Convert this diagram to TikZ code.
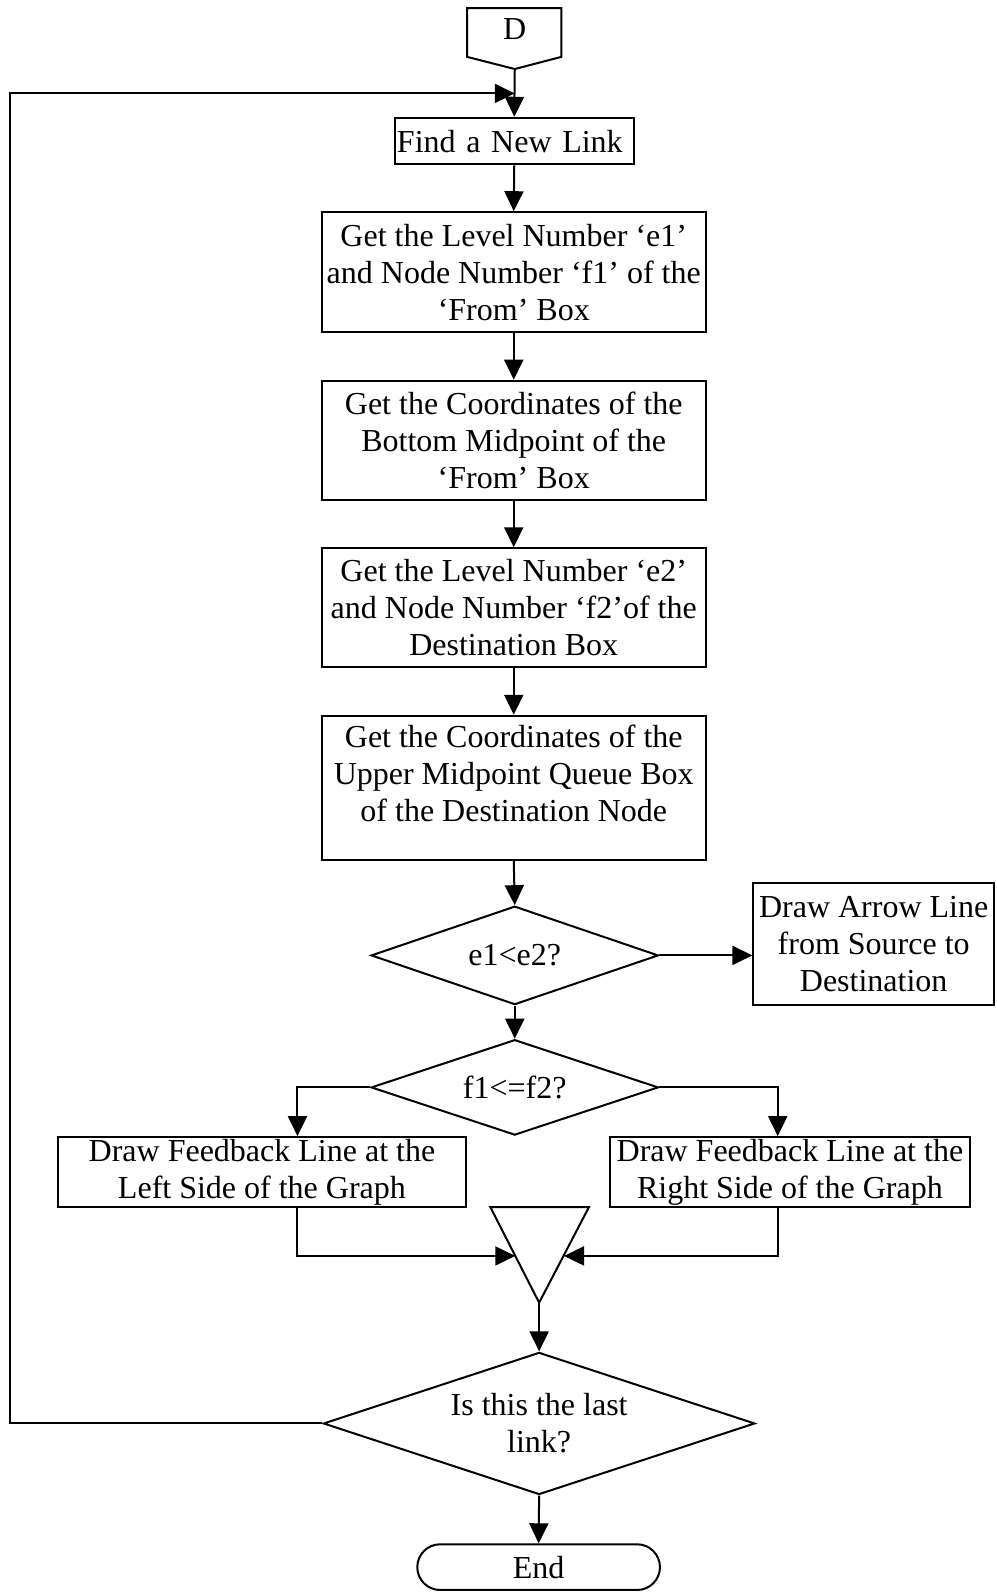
\documentclass[tikz,border=0pt]{standalone}
\usepackage{fontspec}
\setmainfont{Liberation Serif}
\usetikzlibrary{shapes.geometric,arrows.meta}
\newlength\pxu
\setlength\pxu{0.50765pt}

\begin{document}
\begin{tikzpicture}[
  x=\pxu, y={(0pt,-0.50765pt)},
  line width=1pt,
  every node/.style={font=\fontsize{16}{18.5}\selectfont, inner sep=0pt, align=center},
  box/.style={draw, rectangle},
  decision/.style={draw, diamond},
  flow/.style={-{Triangle[length=10pt,width=9.5pt]}},
]
\useasboundingbox (0,0) rectangle (981,1568);

% off-page connector at the top
\draw (460,8) -- (553,8) -- (553,56) -- (507,68) -- (460,56) -- cycle;
\node (dlab) at (507,29) {D};
\coordinate (dtip) at (507,68);
\coordinate (join) at (507,92);

% main column
\node[box, text width=231\pxu, align=left, inner xsep=2\pxu, minimum height=46\pxu] (find) at (506.5,139) {Find a New Link};
\node[box, minimum width=378\pxu, minimum height=118\pxu] (b2) at (506,268)
  {Get the Level Number ‘e1’\\and Node Number ‘f1’ of the\\‘From’ Box};
\node[box, minimum width=378\pxu, minimum height=117\pxu] (b3) at (506,433.5)
  {Get the Coordinates of the\\Bottom Midpoint of the\\‘From’ Box};
\node[box, minimum width=378\pxu, minimum height=117\pxu] (b4) at (506,598.5)
  {Get the Level Number ‘e2’\\and Node Number ‘f2’of the\\Destination Box};
\node[box, minimum width=378\pxu, minimum height=142\pxu] (b5) at (506,776) {};
\node (b5text) at (506,762)
  {Get the Coordinates of the\\Upper Midpoint Queue Box\\of the Destination Node};

\node[decision, shape aspect=2.9, minimum width=283\pxu, minimum height=97\pxu] (d1) at (507,941) {e1<e2?};
\node[box, minimum width=237\pxu, minimum height=120\pxu] (arr) at (860.5,930)
  {Draw Arrow Line\\from Source to\\Destination};
\node[decision, shape aspect=3, minimum width=283\pxu, minimum height=94\pxu] (d2) at (507,1071) {f1<=f2?};

\node[box, minimum width=402\pxu, minimum height=69\pxu] (lbox) at (258,1154.5)
  {Draw Feedback Line at the\\Left Side of the Graph};
\node[box, minimum width=354\pxu, minimum height=69\pxu] (rbox) at (778,1154.5)
  {Draw Feedback Line at the\\Right Side of the Graph};

% merge triangle
\draw (483,1189) -- (580,1189) -- (531,1283) -- cycle;
\coordinate (mL) at (507.5,1237);
\coordinate (mR) at (555.5,1237);
\coordinate (mtip) at (531,1283);

\node[decision, shape aspect=3.04, minimum width=425\pxu, minimum height=140\pxu] (d3) at (531,1402)
  {Is this the last\\link?};
\node[draw, rectangle, rounded corners=22.5\pxu, minimum width=239\pxu, minimum height=45\pxu] (end) at (530.5,1543.5) {End};

\coordinate (loop) at (10,1402);

% connectors
\draw[flow] (dtip) -- (find.north);
\draw[flow] (find.south) -- (b2.north);
\draw[flow] (b2.south) -- (b3.north);
\draw[flow] (b3.south) -- (b4.north);
\draw[flow] (b4.south) -- (b5.north);
\draw[flow] (b5.south) -- (d1.north);
\draw[flow] (d1.east) -- (d1.east -| arr.west);
\draw[flow] (d1.south) -- (d2.north);
\draw[flow] (d2.west) -| ([xshift=35\pxu]lbox.north);
\draw[flow] (d2.east) -| ([xshift=-12\pxu]rbox.north);
\draw[flow] ([xshift=35\pxu]lbox.south) |- (mL);
\draw[flow] ([xshift=-12\pxu]rbox.south) |- (mR);
\draw[flow] (mtip) -- (d3.north);
\draw[flow] (d3.south) -- (end.north);
\draw[flow] (d3.west) -- (loop) |- (join);
\end{tikzpicture}
\end{document}
